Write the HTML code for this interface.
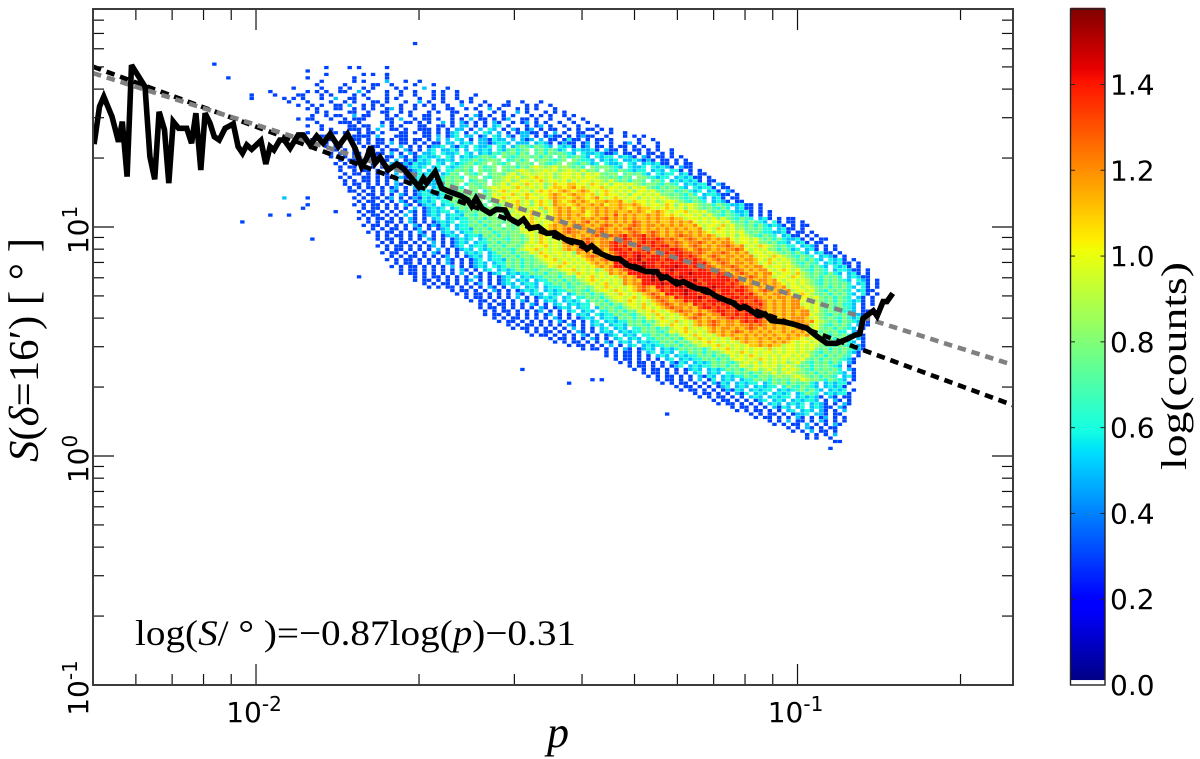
<!DOCTYPE html>
<html>
<head>
<meta charset="utf-8">
<title>Polarization angle dispersion versus polarization fraction</title>
<style>
html,body{margin:0;padding:0;background:#fff;width:1200px;height:759px;overflow:hidden}
svg{display:block}
.dj{font-family:"DejaVu Sans","Liberation Sans",sans-serif;fill:#000}
.sf{font-family:"Liberation Serif","DejaVu Serif",serif;fill:#000}
</style>
</head>
<body>
<svg id="chart" xmlns="http://www.w3.org/2000/svg" width="1200" height="759" viewBox="0 0 1200 759">
<defs><clipPath id="plot-clip"><rect x="93" y="9" width="920" height="676"/></clipPath></defs>
<rect width="1200" height="759" fill="#fff"/>
<g id="heat" clip-path="url(#plot-clip)"></g>
<g id="lines" clip-path="url(#plot-clip)"></g>
<g id="ticks"></g>
<rect x="93" y="9" width="920" height="676" fill="none" stroke="#3c3c3c" stroke-width="2"/>
<g id="labels"></g>
<text class="sf" x="558" y="747" font-size="44" font-style="italic" text-anchor="middle">p</text>
<text class="sf" transform="translate(38,462) rotate(-90)" font-size="42" textLength="224" lengthAdjust="spacingAndGlyphs"><tspan font-style="italic">S</tspan>(<tspan font-style="italic">δ</tspan>=16′) [ ° ]</text>
<text class="sf" x="135" y="645" font-size="36" textLength="441" lengthAdjust="spacingAndGlyphs">log(<tspan font-style="italic">S</tspan>/ ° )=−0.87log(<tspan font-style="italic">p</tspan>)−0.31</text>
<g id="colorbar"></g>
<text class="sf" transform="translate(1186,470) rotate(-90)" font-size="36" textLength="208" lengthAdjust="spacingAndGlyphs">log(counts)</text>
</svg>
<script>
// log10(p) and log10(S) of the running mean curve
const meanLogP = [-2.299,-2.289,-2.281,-2.266,-2.254,-2.247,-2.238,-2.230,-2.205,-2.196,-2.187,-2.179,-2.169,-2.161,-2.153,-2.143,-2.128,-2.119,-2.111,-2.102,-2.094,-2.085,-2.077,-2.068,-2.057,-2.042,-2.033,-2.025,-2.017,-2.008,-1.991,-1.982,-1.974,-1.967,-1.956,-1.948,-1.937,-1.922,-1.913,-1.900,-1.888,-1.876,-1.863,-1.848,-1.831,-1.817,-1.805,-1.796,-1.788,-1.780,-1.771,-1.756,-1.740,-1.728,-1.700,-1.691,-1.685,-1.669,-1.657,-1.642,-1.623,-1.609,-1.602,-1.594,-1.583,-1.568,-1.556,-1.540,-1.532,-1.516,-1.506,-1.494,-1.479,-1.463,-1.448,-1.429,-1.411,-1.399,-1.389,-1.380,-1.362,-1.343,-1.328,-1.315,-1.291,-1.279,-1.260,-1.251,-1.242,-1.223,-1.211,-1.186,-1.168,-1.149,-1.119,-1.106,-1.097,-1.072,-1.060,-1.048,-1.026,-1.008,-0.983,-0.965,-0.946,-0.928,-0.909,-0.894,-0.885,-0.879,-0.860,-0.853,-0.842,-0.835,-0.824];
const meanLogS = [1.362,1.525,1.569,1.482,1.372,1.460,1.220,1.707,1.613,1.307,1.208,1.503,1.424,1.191,1.460,1.431,1.431,1.366,1.497,1.249,1.497,1.453,1.394,1.380,1.431,1.450,1.351,1.322,1.358,1.339,1.377,1.275,1.351,1.336,1.380,1.380,1.344,1.402,1.402,1.358,1.397,1.366,1.406,1.351,1.406,1.344,1.263,1.300,1.351,1.278,1.304,1.249,1.275,1.256,1.176,1.213,1.191,1.241,1.169,1.153,1.137,1.118,1.092,1.125,1.082,1.060,1.077,1.074,1.038,1.016,1.034,0.994,1.001,0.972,0.975,0.946,0.936,0.929,0.903,0.918,0.882,0.863,0.860,0.834,0.815,0.805,0.805,0.776,0.783,0.751,0.761,0.732,0.725,0.696,0.667,0.645,0.652,0.613,0.620,0.591,0.586,0.576,0.558,0.524,0.492,0.492,0.510,0.528,0.533,0.601,0.634,0.611,0.674,0.674,0.710];

// power-law fits: [slope, intercept] in log-log space
const fitBlack = [-0.87, -0.302];
const fitGray = [-0.75, -0.054];

// axis limits and tick values
const xLimits = [0.005, 0.25];
const yLimits = [0.1, 89.5];
const xMajorTicks = [0.01, 0.1];
const xMinorTicks = [0.006,0.007,0.008,0.009,0.02,0.03,0.04,0.05,0.06,0.07,0.08,0.09,0.2];
const yMajorTicks = [1, 10];
const yMinorTicks = [0.2,0.3,0.4,0.5,0.6,0.7,0.8,0.9,2,3,4,5,6,7,8,9,20,30,40,50,60,70,80];
const colorTicks = ["0.0","0.2","0.4","0.6","0.8","1.0","1.2","1.4"];
const colorMax = 1.576;

// 2D histogram bins
const binLogPStart = -2.081;
const binLogPWidth = 0.00862;
const binLogSStart = 1.808;
const binLogSHeight = 0.01498;

// one line per log(S) bin, top to bottom: "firstBin:levels" (spaces ignored); hex digit = log(counts) x 10, "." = empty
const heatLevels = [
"40:...3","","","","","",
"0:3",
"20:....3....3 .3.....3",
"20:3",
"20:....3..... ..3.3..3",
"0:...3...... ..........3 .........3 ......3",
"20:...3...... 3.3....5.. .3..3",
"20:..3.....3. ....33..3. ...3...3",
"10:.......3.. ...3...3.3 ..3.3....3 .3...5.... 3",
"10:..3....... 3.3.3..33. .5.3...3.. 3..3...3.3 ..3",
"0:........3. ...3....33 ...3.3.... 3.3....3.. 3..3...3.3 ..3...3",
"0:........3. .....3.3.3 ...3..5..3 3..3...3.3 ....3..3.3 ..3..3",
"10:......3... 3....3..3. 3...33.3.. .3..5.3..3 ...3.3..3. ...3..3...3",
"10:........3. .3.3..33.5 ..3.3.3... 3..3.3.3.. 3..5...3.3 ..33...3.3 ..3",
"20:3.3...33.. 3.3.3..35. 3..3...3.. 33..3.3..5 .3...3.3.3 ...3",
"20:..3.3....3 3..3..33.. 3.3...3.3. .33....3.. 3.3..5.3.. .3.3.3",
"20:.3..3.33.. 5.33...3.3 ..3..33... .3..3.53.3 ..3.3...3. 3.3..3.3",
"10:........3. 33...3..3. 333....33. 5..3.33.3. .3.3.5.33. 3.35..33.3 ..3...3..3",
"20:..3....333 .3....3.3. .33.3.3..5 .3.53.3.3. 53..3.35.3 .3..3..3.. 3",
"20:3..3.....3 3.33..5.3. 3...33..33 .3.55.3.3. 56.3...3.3 5.3..3..3. ..3",
"20:...3.3...3 33.3.5..33 .3..333.3. 3.55.3.5.6 5.3.53.35. 3.33..3.3. 33.3.3",
"20:3....33.3. .3.33.3... 33.3.33.3. 356.3.5.65 .5.3.35533 .3.5.3..33 ..3..3..3",
"20:...33..... 3333.5...3 33...33.5. 356.55.35. 65.53.55.3 .3533.3.35 33..3...3. 3.3",
"20:.3..33.... 33.3.33.3. 33.33.3.5. 5.65.3.553 655.5.535. 5.33.3633. 3.33.3.... .3..3",
"20:....3.3... .3.3.33.5. 33.3.3.33. 55.565.553 5665.555.5 653.3533.3 5.3..3..35 .3...3",
"24:3.33..3.3.33.3..5.3.3.35 56.5365.6556.65.5 787687 65.656 3.35.33.3.33.3.3..3",
"24:..3.3.3..33.3.33.53.3.5 6.5565.5.6565.65 78678.78687 56.56556 3.533.3.33.3.3..3",
"25:3.3..33.3.33.5.3.53.5 56.6556.65.565 76878687.7868787 65.65565 335.33.3.33.3.3",
"25:3..3.33.3.3.33.53.35 6556.65.5656 7876.87678878687.78678 65.6566.565 3.53.33.3.3",
"26:.3.33.3.3.33.5.353 656.5565.66 7867887.67868.7887678.87 665.5656.5565 353.33.3.3",
"26:3.3.33..3.3.5.353 6556.65.656 78678.8768.7887.87678.87687 56.6556.65.5656 33.3.33",
"26:.3.33.3.3.3.5.335 656.56.656 787.8678.878687 9a989a89 8786.87887 65.6556.6565 3.533.",
"27:3..3.33.3.3.53.35 6.565.66 8786.8778.878 9a9899a9a89a98a 887.87687 6566.565.66 3.3.3",
"27:.3.33.3.3.3.5.353 6566.56 87.8768.7887 9a89a99a9a89aa9a8a9a 8788.7878 65.6566.56 3.33",
"27:3.3..33.3.33.53.5 656.56 8786.88.7688 9a9a89aba9a89aa9a9aa98 878687.887 6566.5656 33.3",
"27:.3.3.33.3.3.5.353 65.566 8788.6787.88 9a89aa9ab9aa9a8a9aa9a98a 8786887.78 6.565656 3.33",
"28:3.33.3.3.3.53.5.3 65566 878.68778.8 9a8aa9ba9a89ba abba a9ba9a8aa9a9 87887687 6.56566 3.53",
"28:.3.3.33.3.35.3.53 6.566 8786.88789 a9aa9ba9a9a8a bbabcab 9aab9aa9a8a9a 8768788 65.6566 3.33",
"29:33.3.3.3.53.3.35 65.66 8678878.68 9ab9aa9a8aba babcbabcb a9aba9a9a8aa9a 8788678 656.56 3.53",
"30:.3.33.3.3.53.35 66556 8786887978 a9aab9aba9aa bcbabcbbab 9abaa9a8aa9a9a8 878768 6.5665 33.3",
"15:5....3......... 3.3.33.35.3.353 65656 7888687878 aab9aa9baa9a bcbbabcbabc a9aba9aa8a9a9a9 887678 65.56 3.33",
"30:.3.33.3.3.53.35 656.66 8768878.78 a9aab9a8aba9 cbabcbcbabbcbbc a9baa9a89aa9 87687 6.565 3.33",
"20:3......... 3.3.33.3.3.53.35 65.566 8786887.87 9aab9a8aba9 cbbabcbbcbcabbcbbcb a9aa9ba8a9a9 878687 6556 33.3.",
"19:3........... .3.33.3.3.3.5.35 656.56 8788768878 a9ba9aa8ba bcbcabcbbcbcbbcbabcbb a9aba9a8a9 878768 6.56 33.3",
"26:3.... 3.33.3.3.3.53.35 6566.56 7878687887 9aa9baa8a bcbcbbcabcbcbcbbcbcbabcb a9aab9a9a 87868 6556 3.3.3",
"12:3...3.............. .3.33.3.3.5.3.35 65.5665 8768878.78 a9aab9a9a bcbcbcbabcbcbdbcbcbbcbcbab a9aa9a8a 87687 656 3.3.3",
"31:3.3.33.3.3.53.3.5 6.56566 8786887878 9aab9a9a bcbcbbcbcbcdbcbcbcbbcbcbbcbb 9aa9a9a8a 87687 6.56 3.3.33",
"6:3......................... .3.3.33.3.53.3.35 656.66 78687887878 a9ba9aa bcbbcbcdbcbcbcbcbdcbcbcbbcbcbc a9a9aa9a8 78687 65.6 3.33.3",
"32:3.33.3.3.3.53.353 65.566 8786887.878 9aba9a bcbcbcdcbcbcdcbcbcdcbccbcbcbcbbc a9aa9b9a8 87868 6565 3.3.33",
"33:.3.3.33.3.35.3.35 6.5665 8786887878 a9ba9a bcbcdcbccbcdcbcbcdccbcbcbcbcbcbbc 9a9ba9a89 78786 6.56 33.3.",
"33:3.3.33.3.3.53.3.5 65.566 8788678788 9aa9ba bcbcdccbcbcdcbccbcdcbcdcbcbccbcbcb a9aa9a9a 87876 6556 3.33.3",
"34:.3.3.33.3.35.3.35 65.5665 878687887 9a9ba9a bcbcbcbcdc ddcdecdde cdcbcbcdccbcbcb 9a9a8a9 87687 6.56 33.3.3",
"21:3............. 3.33.3.3.3.53.3.35 656.56 878768878 a9ba9aa9 bcbcdcbccb ddedcdedded cdcbcdcbccbcbc a9aa9a 87868 6556 3.3.33",
"35:.3.3.33.3.3.5.3.35 65.566 78687887 9a9ba9a9 cbcbcdcbcc deddecdededdc cdcbccdcbcbccb 9aa9a8 8786 65.56 3.33.",
"35:3.3.33.3.3.35.3.35 6.5665 87868878 a9aab9a9 bcbccdcbcc dedecdeddedeecd cbcdcbcbccdcbc 9a9ba9 8786 6.565 3.3.3",
"36:.3.33.3.3.3.5.3.35 65.656 878768 9aab9a9a9 bcbcdcbccb deedecdeededdeed cbcdccbcbccdc a9a9a8 8687 56.56 3.3.3",
"36:3.33.3.3.3.53.3.3.5 656.56 8786878 a9ba9aa9a8 cbcbdcbc deedeedecdeedeedd cdcbccdcbcbc 9aa9a9 87868 65.56 33.3.",
"37:.3.3.33.3.3.35.3.35 65.566 8786887 9aba9a9a9a bcdcbcb deedefedeeddeeeded cbcdcbccbcbc 9aa9ba9 87687 6.565 3.3.",
"37:3.3.33.3.3.3.53.3.35 6.5665 8786878 9aab9a9a9a bcbcdc eedeefdeeedeedeeded cbcdccbcbccb a9ba9a9 87868 65.656 3.3",
"38:.3.33.3.3.3.53.3.35 65.566 87868788 9aa9ba9a9a bcbcb eedeeefeededeeedeede cbcdcbccbcb 9ab9a9a 87687 6.5656 33.3",
"38:3.3.33.3.3.3.5.3.35 65.656 878687878 a9ba9a9a9a bcbc eeedeefeedeeefeedeedd cbccdcbcbcc a9aa9a9 87868 65.656 3.3.",
"39:.3.33.3.3.3.3.53.3.5 6.5656 878768878 9aab9a9a89 bcbc deeeefeedefeeeedeeded cbcdcbcbcc a9aba9a 87687 6.5665 33.3",
"40:3.33.3.3.3.3.5.3.3.35 6.56566 87868878 a9ba9a9a9 cbcb eeeedefeeedeefeeeedede bcdcbcbcc a9aa9b9 878768 65.56 3.3",
"31:3.......... .3.3.33.3.3.3.53.3.35 65.56566 8786887 a9ab9a9a9 bcbc eeefeedeefeeeeeedeeed cbcdcbcb 9aa9ba9 8786878 6.565 33.",
"43:3.33.3.3.3.35.3.3.35 6.565.566 8786878 9aba9a9a9 cbcb eefeedeeeeefdeeeeeede cbcbccbc a9aa9a9 8768787 65.65 3.3",
"44:.3.3.33.3.3.35.3.35 65.5665.66 8786878 9a9ab9a9 cbcc eeeefeedeefeedeeeeded cbccbcbcb a9a9a9 87687878 6.56 3.3",
"46:3.3.33.3.3.3.53.3.5 6.565.5666 8678878 a9ba9a9a bcdcb eedeefeedeeefeeeeded cbcbccbc 9aa9a9 8786878 65.6 3.3",
"50:.3.33.3.3.53.3.35 656.56566 878768 9aa9ba9a bcdcbc edeeefeedeeedeedeed cbcdcbcbc 9aa9a 8768787 6.56 33.",
"52:3.3.33.3.3.3.53.5 65.656.56 878687 9a9ba9a9 bcdcb eedefeedeeedeeedede cbcbccbc a9ba9 8786878 65.6 3.3",
"53:.3.33.3.3.3.5.3.35 656.56.66 87868 9aa9ab9a bcdccb edeeefedeeedeededd cbcbccbc 9aa9a 878687 6.5 3.3",
"55:3.33.3.3.3.53.3.5 65.5656.6 87868 9a9ba9a9 bcdcbcc edeedeefeeededded cbcbcbcc a9a9 878687 656 3.3",
"56:.3.3.33.3.3.53.3.5 6.56566. 878687 9aa9b9a bcdcbccb edededeedeeedde cbcbcbcc 9a9a 878786 65. 3.3",
"57:3.33.3.3.3.3.53.35 65.566.5 878768 9a9ba9a bcdccbcb deedededeededd cbcbcbccb a9a 878687 65. 3.",
"57:.3.3.33.3.3.35.3.3.5 6.565.66 878687 a9aba9a bcdccbcbc deeddedeedd cbcbcbcbcc 9a 878786 65. 33",
"58:3.33.3.3.3.3.35.3.3.5 65.6566 878768 9a9ba9a9 bcbcdcbcc eddedeedd cbcbcbcbcc a9 876878 6.5 3.",
"59:.3.3.33.3.3.3.53.3.35 65.5665 878687 a9ab9a9a bcdcbcbcc deddedee cbcbcbcccb 9a 878768 656 33",
"61:3.33.3.3.3.3.53.3.3.5 6.56566 878687 9aa9b9a9 bcbcdcbccb deded cbcbcbcccbc a9 878687 65. 3.",
"62:.3.3.33.3.3.3.53.3.5 65.5665 878768 9a9ba9a9 bcbcdcbccbcc dcd cbcbcbcbcc 9a 876878 6.5 33",
"64:3.33.3.3.3.3.5.3.3.5 6.565.66 878687 9aab9a9a bcbccbcbcdcbcbcbcbbcbc 9a 878687 65. 3",
"66:.3.3.33.3.3.53.3.5 65.56566 878768 a9aba9a9 bcbcbcdcbcbcbcbbcbcbc a9 878786 6.5 3",
"68:3.33.3.3.3.53.3.35 6.565.66 878687 9a9ba9a9 bcbcbbcbcbcbcbbcbcbc 9a 876878 65. 3",
"71:.3.33.3.3.53.3.5 6.565.66 878786 9a9ba9a9a9 bcbcbbcbcbcbcbb a9a9 878687 6.5 3",
"73:3.3.33.3.3.53.5 65.56566 8786878 a9aba9a9a9 bcbbcbbcbcb a9aa9a 876878 65. 3",
"75:.3.33.3.3.5.3.5 6.56566 8786878 9a9ab9a9a9a bbcbcbb 9aa9a9a9 878687 6.5 3",
"79:3.33.3.3.53.35 65.5656 8787868 a9ab9a9a9aa9b9a9aa9a9a 87868787 65 3",
"83:.3.3.33.3.5 6.565.66 8786878 9aa9ba9a9aa9a9aa9a9 87687878 65 3",
"84:3.3.33.3.3.5 65.56566 8786878 a9a9ba9a9a9aa9a9a 87868787 6. 3",
"85:.3.33.3.3.3.5 6.56566 878687 9aa9a9ba9a9a9a9a 87868787 65 3",
"87:3.3.33.3.3.53 65.5656 878768 9a9a8a9a9a89a 87687868 6.5 3",
"88:.3.33.3.3.35 6.56566 878687 a98a9a9a89a9 87868787 65. 3",
"66:3....................... 3.3.33.3.3.35 65.5656 87868 9a89a98a9a9 87687878 6.5 3",
"91:.3.33.3.3.3.5 6.565.66 878687 98a89a98 87868787 65. 3",
"93:3.3.33.3.3.53 65.56566 8768878 9889a9 878687 6.56 3",
"81:3.3.......... .3.33.3.3.5.3 6.565.566 87868787 98a98 87687 65. 3",
"76:3................... 3.3.33.3.3.53 65.56566.56 87868778 65.56566 3.",
"98:.3.33.3.3.35 6.565.56566.6 87687 65.5656 3.",
"100:3.33.3.3.353 65.56566.5656 7868 65.5656 .3",
"102:.3.33.3.3.53 6.565.5656.56 87 6.56566 3",
"104:3.3.33.3.3.5 65.56566.56565 3.53.33",
"106:.3.33.3.3.35 6.565.565665. 3.53.3",
"108:3.33.3.3.3.5 65.5656.565 3.3.53",
"110:.3.33.3.3.53 65.56.565 33.53",
"112:3.3.33.3.3.5 6.565.5 3.3.5",
"97:3................ .3.3.33.3.35 56.55 3.33.",
"116:3.33.3.3.53.3.35.3.3",
"118:.3.3.5.33.3.53.3.3",
"120:3.3.33.5.3.3.53",
"122:.3.3.53.3.33",
"124:3.3.5.33.3",
"126:.3.3.3.5",
"127:3.3..3",
"133:33",
"",
"132:3"
];

const xScale = v => 93 + (v - Math.log10(xLimits[0])) / (Math.log10(xLimits[1]) - Math.log10(xLimits[0])) * 920;
const yScale = v => 685 - (v - Math.log10(yLimits[0])) / (Math.log10(yLimits[1]) - Math.log10(yLimits[0])) * 676;
const NS = 'http://www.w3.org/2000/svg';

function seg(t, pts) {
  for (let i = 1; i < pts.length; i++) {
    if (t <= pts[i][0]) {
      const a = pts[i - 1], b = pts[i];
      return a[1] + (b[1] - a[1]) * (t - a[0]) / (b[0] - a[0]);
    }
  }
  return pts[pts.length - 1][1];
}
function jet(t) {
  const r = seg(t, [[0,0],[0.35,0],[0.66,1],[0.89,1],[1,0.5]]);
  const g = seg(t, [[0,0],[0.125,0],[0.375,1],[0.64,1],[0.91,0],[1,0]]);
  const b = seg(t, [[0,0.5],[0.11,1],[0.34,1],[0.65,0],[1,0]]);
  return 'rgb(' + Math.round(r * 255) + ',' + Math.round(g * 255) + ',' + Math.round(b * 255) + ')';
}

// heatmap cells
const heatGroup = document.getElementById('heat');
heatLevels.forEach(function (row, r) {
  if (!row) return;
  const parts = row.split(':');
  const first = Number(parts[0]);
  const levels = parts[1].replace(/ /g, '');
  for (let i = 0; i < levels.length; i++) {
    const ch = levels[i];
    if (ch === '.') continue;
    const level = parseInt(ch, 16) / 10;
    const lp = binLogPStart + (first + i) * binLogPWidth;
    const ls = binLogSStart - r * binLogSHeight;
    const x0 = xScale(lp), x1 = xScale(lp + binLogPWidth);
    const y0 = yScale(ls), y1 = yScale(ls - binLogSHeight);
    const cell = document.createElementNS(NS, 'rect');
    cell.setAttribute('x', x0.toFixed(2));
    cell.setAttribute('y', y0.toFixed(2));
    cell.setAttribute('width', (x1 - x0 - 0.25).toFixed(2));
    cell.setAttribute('height', (y1 - y0 - 0.2).toFixed(2));
    cell.setAttribute('fill', jet(level / colorMax));
    
    
    heatGroup.appendChild(cell);
  }
});

// fit lines and mean curve
const linesGroup = document.getElementById('lines');
function fitPoints(fit) {
  const a = Math.log10(xLimits[0]), b = Math.log10(xLimits[1]);
  return xScale(a) + ',' + yScale(fit[0] * a + fit[1]) + ' ' + xScale(b) + ',' + yScale(fit[0] * b + fit[1]);
}
const blackFitLine = document.createElementNS(NS, 'polyline');
blackFitLine.setAttribute('points', fitPoints(fitBlack));
blackFitLine.setAttribute('fill', 'none');
blackFitLine.setAttribute('stroke', '#000');
blackFitLine.setAttribute('stroke-width', '4.6');
blackFitLine.setAttribute('stroke-dasharray', '8.5 5.9');


linesGroup.appendChild(blackFitLine);
const grayFitLine = document.createElementNS(NS, 'polyline');
grayFitLine.setAttribute('points', fitPoints(fitGray));
grayFitLine.setAttribute('fill', 'none');
grayFitLine.setAttribute('stroke', '#808080');
grayFitLine.setAttribute('stroke-width', '4.6');
grayFitLine.setAttribute('stroke-dasharray', '8.5 5.9');


linesGroup.appendChild(grayFitLine);
const meanLine = document.createElementNS(NS, 'polyline');
meanLine.setAttribute('points', meanLogP.map(function (p, i) { return xScale(p).toFixed(1) + ',' + yScale(meanLogS[i]).toFixed(1); }).join(' '));
meanLine.setAttribute('fill', 'none');
meanLine.setAttribute('stroke', '#000');
meanLine.setAttribute('stroke-width', '5.6');
meanLine.setAttribute('stroke-linejoin', 'miter');
meanLine.setAttribute('stroke-miterlimit', '3');


linesGroup.appendChild(meanLine);

// ticks
const tickGroup = document.getElementById('ticks');
function addTick(x1, y1, x2, y2) {
  const t = document.createElementNS(NS, 'line');
  t.setAttribute('x1', x1);
  t.setAttribute('y1', y1);
  t.setAttribute('x2', x2);
  t.setAttribute('y2', y2);
  t.setAttribute('stroke', '#111');
  t.setAttribute('stroke-width', '1.2');
  
  
  tickGroup.appendChild(t);
}
xMajorTicks.forEach(function (v) {
  const x = xScale(Math.log10(v));
  addTick(x, 685, x, 664);
  addTick(x, 9, x, 30);
});
xMinorTicks.forEach(function (v) {
  const x = xScale(Math.log10(v));
  addTick(x, 685, x, 674);
  addTick(x, 9, x, 20);
});
yMajorTicks.forEach(function (v) {
  const y = yScale(Math.log10(v));
  addTick(93, y, 114, y);
  addTick(1013, y, 992, y);
});
yMinorTicks.forEach(function (v) {
  const y = yScale(Math.log10(v));
  addTick(93, y, 104, y);
  addTick(1013, y, 1002, y);
});

// tick labels
const labelGroup = document.getElementById('labels');
function powerLabel(name, exponent, transform) {
  const t = document.createElementNS(NS, 'text');
  t.setAttribute('class', 'dj');
  t.setAttribute('font-size', '28');
  t.setAttribute('transform', transform);
  t.setAttribute('text-anchor', 'middle');
  
  
  t.appendChild(document.createTextNode('10'));
  const s = document.createElementNS(NS, 'tspan');
  s.setAttribute('font-size', '20');
  s.setAttribute('dy', '-11');
  s.textContent = exponent;
  t.appendChild(s);
  labelGroup.appendChild(t);
}
powerLabel('x-tick-label', '-2', 'translate(' + (xScale(Math.log10(0.01)) - 2) + ',722)');
powerLabel('x-tick-label', '-1', 'translate(' + (xScale(Math.log10(0.1)) - 2) + ',722)');
powerLabel('y-tick-label', '-1', 'translate(88,' + (yScale(Math.log10(0.1)) + 3) + ') rotate(-90)');
powerLabel('y-tick-label', '0', 'translate(88,' + (yScale(Math.log10(1)) + 3) + ') rotate(-90)');
powerLabel('y-tick-label', '1', 'translate(88,' + (yScale(Math.log10(10)) + 3) + ') rotate(-90)');

// colorbar
const colorGroup = document.getElementById('colorbar');
const cbY = v => 685 - v / colorMax * 676;
for (let v = 0.012; v < colorMax; v += 0.006) {
  const slice = document.createElementNS(NS, 'rect');
  slice.setAttribute('x', 1070.5);
  slice.setAttribute('y', (cbY(v + 0.006) - 0.4).toFixed(2));
  slice.setAttribute('width', 34.5);
  slice.setAttribute('height', (0.006 / colorMax * 676 + 0.6).toFixed(2));
  slice.setAttribute('fill', jet(v / colorMax));
  
  
  colorGroup.appendChild(slice);
}
const cbFrame = document.createElementNS(NS, 'rect');
cbFrame.setAttribute('x', 1070.5);
cbFrame.setAttribute('y', 9);
cbFrame.setAttribute('width', 34.5);
cbFrame.setAttribute('height', 676);
cbFrame.setAttribute('fill', 'none');
cbFrame.setAttribute('stroke', '#222');
cbFrame.setAttribute('stroke-width', '1.4');


colorGroup.appendChild(cbFrame);
colorTicks.forEach(function (label) {
  const y = cbY(Number(label));
  const a = document.createElementNS(NS, 'line');
  a.setAttribute('x1', 1070.5);
  a.setAttribute('x2', 1075);
  a.setAttribute('y1', y);
  a.setAttribute('y2', y);
  a.setAttribute('stroke', '#222');
  
  
  colorGroup.appendChild(a);
  const b = document.createElementNS(NS, 'line');
  b.setAttribute('x1', 1100.5);
  b.setAttribute('x2', 1105);
  b.setAttribute('y1', y);
  b.setAttribute('y2', y);
  b.setAttribute('stroke', '#222');
  
  
  colorGroup.appendChild(b);
  const t = document.createElementNS(NS, 'text');
  t.setAttribute('class', 'dj');
  t.setAttribute('x', 1110);
  t.setAttribute('y', y + 10);
  t.setAttribute('font-size', '28');
  
  
  t.textContent = label;
  colorGroup.appendChild(t);
});
</script>
</body>
</html>
